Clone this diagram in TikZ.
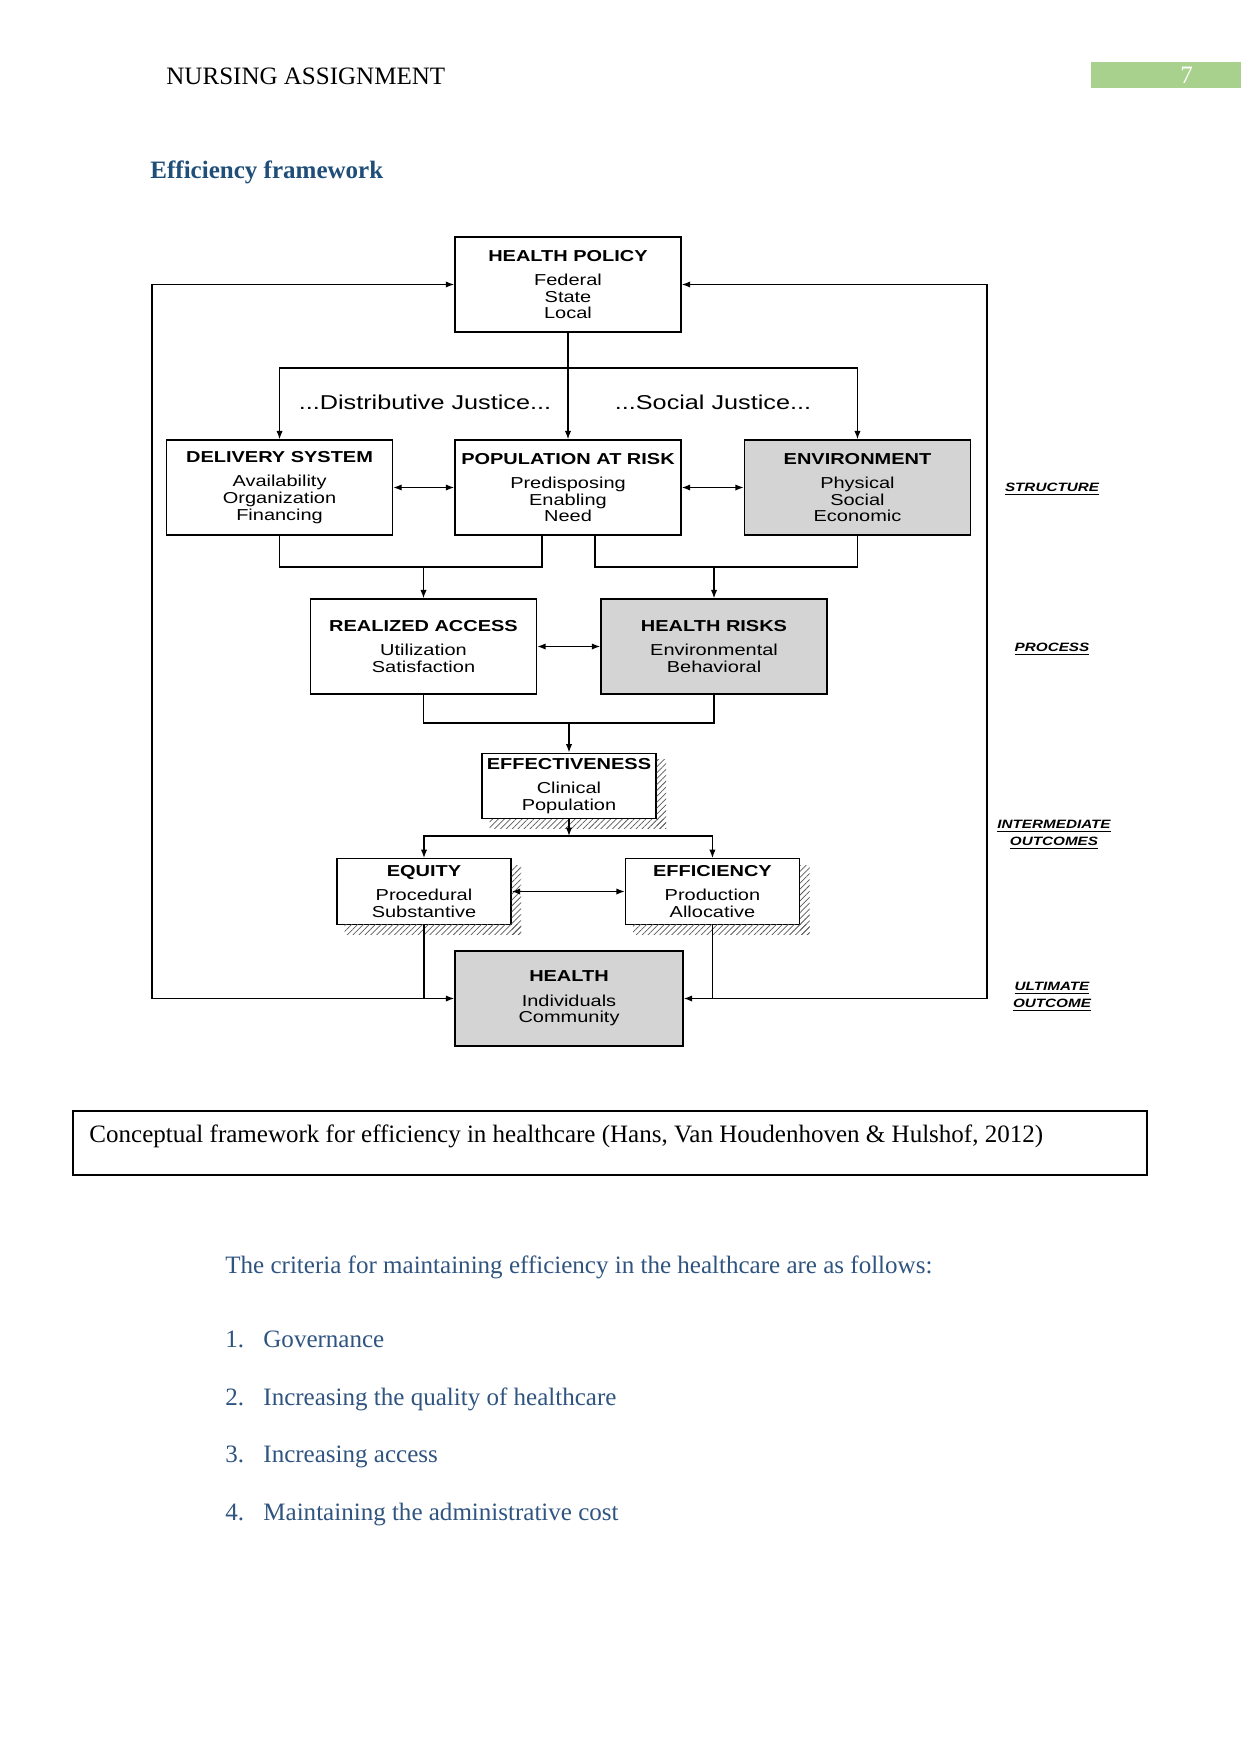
\documentclass[tikz,border=0pt]{standalone}
\usepackage{fontspec}
\setmainfont{Liberation Serif}
\newfontfamily\diagfont[FakeStretch=1.26]{Liberation Sans}
\usepackage{tikz}
\usetikzlibrary{
  arrows.meta,
  calc,
  positioning,
  patterns.meta
}
\definecolor{BoxGray}{RGB}{212,212,212}
\definecolor{HeadBlue}{RGB}{31,78,121}
\definecolor{TextBlue}{RGB}{47,84,128}
\definecolor{PageGreen}{RGB}{169,209,142}

\begin{document}
\begin{tikzpicture}[
  x=0.47947pt, y=-0.47947pt,
  font=\fontsize{12}{14}\selectfont,
  >={Latex[length=4pt,width=3pt]},
  box/.style={draw, line width=0.7pt, fill=#1, align=center, inner sep=1pt,
              minimum width=108.4pt, minimum height=45.5pt,
              font=\diagfont\fontsize{7.6}{8}\selectfont},
  box/.default=white,
  sbox/.style={box=#1, minimum width=83.4pt, minimum height=31.4pt},
  sbox/.default=white,
  arr/.style={->, line width=0.6pt},
  dbl/.style={<->, line width=0.6pt},
  link/.style={line width=0.6pt},
  hatch/.style={pattern={Lines[angle=45,distance=2pt,line width=0.35pt]},
                pattern color=black!65},
  sidelabel/.style={align=center, font=\diagfont\bfseries\itshape\fontsize{5.8}{8}\selectfont},
  pagetxt/.style={anchor=base west, inner sep=0pt},
]
  \useasboundingbox (0,0) rectangle (1241,1754);

  % page header
  \node[pagetxt] (header) at (166,84.5) {NURSING ASSIGNMENT};
  \fill[PageGreen] (1091,62) rectangle (1241,88);
  \node[pagetxt, text=white] (pagenum) at (1180,84) {7};
  \node[pagetxt, text=HeadBlue, font=\bfseries\fontsize{12}{14}\selectfont]
    (heading) at (150,178) {Efficiency framework};

  % structure
  \node[box] (policy) at (568,284.5) {\textbf{HEALTH POLICY}\\[3.6pt]Federal\\State\\Local};
  \node[box] (population) at (568,487.5) {\textbf{POPULATION AT RISK}\\[3.6pt]Predisposing\\Enabling\\Need};
  \node[box, left=29.2pt of population] (delivery) {\textbf{DELIVERY SYSTEM}\\[3.6pt]Availability\\Organization\\Financing};
  \node[box=BoxGray, right=29.7pt of population] (environment) {\textbf{ENVIRONMENT}\\[3.6pt]Physical\\Social\\Economic};

  % process
  \node[box] (access) at (423.5,646.5) {\textbf{REALIZED ACCESS}\\[3.6pt]Utilization\\Satisfaction};
  \node[box=BoxGray, right=30.2pt of access] (risks) {\textbf{HEALTH RISKS}\\[3.6pt]Environmental\\Behavioral};

  % outcomes
  \node[sbox] (effect) at (569,786) {\textbf{EFFECTIVENESS}\\[3.6pt]Clinical\\Population};
  \node[sbox] (equity) at (424,891.5) {\textbf{EQUITY}\\[3.6pt]Procedural\\Substantive};
  \node[sbox, right=54.2pt of equity] (efficiency) {\textbf{EFFICIENCY}\\[3.6pt]Production\\Allocative};
  \node[box=BoxGray, minimum width=109.3pt] (health) at (569,998.5) {\textbf{HEALTH}\\[3.6pt]Individuals\\Community};

  \foreach \n in {effect,equity,efficiency}{
    \fill[hatch] ([yshift=-3.5pt]\n.north east) rectangle ([shift={(4.5pt,-4.5pt)}]\n.south east);
    \fill[hatch] ([xshift=4pt]\n.south west) rectangle ([shift={(4.5pt,-4.5pt)}]\n.south east);
  }

  \node[font=\diagfont\fontsize{9.6}{12}\selectfont] (distj) at (425,402) {...Distributive Justice...};
  \node[font=\diagfont\fontsize{9.6}{12}\selectfont] (socj) at (713,402) {...Social Justice...};

  % policy fan-out
  \coordinate (fan) at (568,368);
  \draw[arr] (policy) -- (population);
  \draw[arr] (fan) -| (delivery.north);
  \draw[arr] (fan) -| (environment.north);
  \draw[dbl] (delivery) -- (population);
  \draw[dbl] (population) -- (environment);

  % structure -> process
  \coordinate (rowA) at (0,567);
  \coordinate (popL) at ($(population.south)+(-26,0)$);
  \coordinate (popR) at ($(population.south)+(27,0)$);
  \draw[link] (delivery.south) -- (delivery.south |- rowA) -| (popL);
  \draw[link] (popR) -- (popR |- rowA) -| (environment.south);
  \draw[arr] (access.north |- rowA) -- (access.north);
  \draw[arr] (risks.north |- rowA) -- (risks.north);
  \draw[dbl] (access) -- (risks);

  % process -> outcomes
  \coordinate (rowB) at (0,723);
  \coordinate (rowC) at (0,836);
  \draw[link] (access.south) -- (access.south |- rowB) -| (risks.south);
  \draw[arr] (effect.north |- rowB) -- (effect.north);
  \draw[arr] (effect.south) -- (effect.south |- rowC);
  \draw[arr] (effect.south |- rowC) -| (equity.north);
  \draw[arr] (effect.south |- rowC) -| (efficiency.north);
  \draw[dbl] (equity) -- (efficiency);

  % feedback loop
  \coordinate (loopL) at (152,998.5);
  \coordinate (loopR) at (987,998.5);
  \draw[arr] (equity.south) |- (health.west);
  \draw[arr] (equity.south |- health.west) -- (loopL) |- (policy.west);
  \draw[arr] (efficiency.south) |- (health.east);
  \draw[arr] (efficiency.south |- health.east) -- (loopR) |- (policy.east);

  % side labels
  \node[sidelabel] (lstruct) at (1052,489) {\underline{STRUCTURE}};
  \node[sidelabel] (lproc) at (1052,649) {\underline{PROCESS}};
  \node[sidelabel] (linter) at (1054,835) {\underline{INTERMEDIATE}\\\underline{OUTCOMES}};
  \node[sidelabel] (lult) at (1052,997) {\underline{ULTIMATE}\\\underline{OUTCOME}};

  % caption and text
  \draw[line width=0.7pt] (73,1111) rectangle (1147,1175);
  \node[pagetxt] (caption) at (89,1142)
    {Conceptual framework for efficiency in healthcare (Hans, Van Houdenhoven \& Hulshof, 2012)};
  \node[pagetxt, text=TextBlue] (criteria) at (225,1273)
    {The criteria for maintaining efficiency in the healthcare are as follows:};
  \foreach \i/\y/\t in {1/1347/Governance,
                        2/1405/Increasing the quality of healthcare,
                        3/1462/Increasing access,
                        4/1520/Maintaining the administrative cost}{
    \node[pagetxt, text=TextBlue] (num\i) at (225,\y) {\i.};
    \node[pagetxt, text=TextBlue] (item\i) at (263,\y) {\t};
  }
\end{tikzpicture}
\end{document}
